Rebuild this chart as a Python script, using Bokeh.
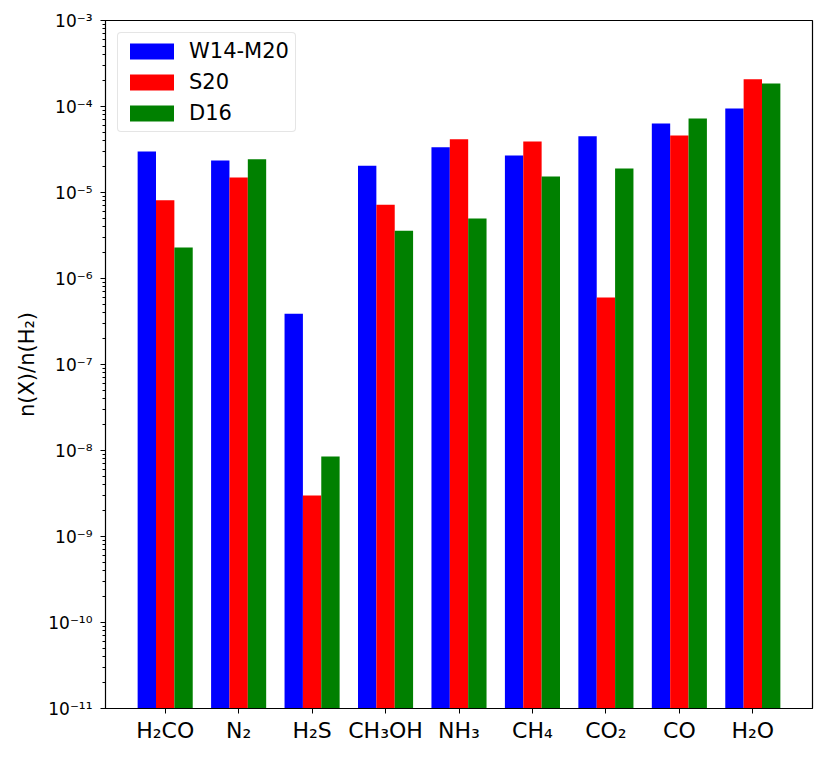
import numpy as np
from bokeh.plotting import figure
from bokeh.models import (ColumnDataSource, Range1d, FixedTicker, CustomJSTickFormatter,
                          Legend, LegendItem)
from bokeh.embed import file_html
from bokeh.resources import INLINE

# ---- data ----
molecules = ["H₂CO", "N₂", "H₂S", "CH₃OH", "NH₃", "CH₄", "CO₂", "CO", "H₂O"]
series_names = ["W14-M20", "S20", "D16"]
w14_m20 = [3.0e-5, 2.36e-5, 3.9e-7, 2.05e-5, 3.35e-5, 2.7e-5, 4.5e-5, 6.35e-5, 9.5e-5]
s20 = [8.1e-6, 1.49e-5, 3.0e-9, 7.2e-6, 4.15e-5, 3.92e-5, 6.0e-7, 4.6e-5, 2.08e-4]
d16 = [2.3e-6, 2.43e-5, 8.5e-9, 3.6e-6, 5.0e-6, 1.53e-5, 1.9e-5, 7.25e-5, 1.85e-4]
colors = ["#0000ff", "#ff0000", "#008000"]
y_label = "n(X)/n(H₂)"
y_decades = list(range(-11, -2))

FONT = "DejaVu Sans"

idx = np.arange(len(molecules))
bar_w = 0.25
offsets = [-bar_w, 0.0, bar_w]

p = figure(width=822, height=750, output_backend="svg", toolbar_location=None,
           y_axis_type="log",
           x_range=Range1d(-0.375 - 0.4375, len(molecules) - 1 + 0.375 + 0.4375),
           y_range=Range1d(10.0 ** y_decades[0], 10.0 ** y_decades[-1]),
           min_border_left=105, min_border_right=10, min_border_top=20,
           min_border_bottom=42)

p.xgrid.visible = False
p.ygrid.visible = False
p.outline_line_color = "black"
p.outline_line_width = 1.2
p.outline_line_alpha = 1.0
p.background_fill_color = "white"
p.border_fill_color = "white"

renderers = []
for vals, off, col in zip([w14_m20, s20, d16], offsets, colors):
    src = ColumnDataSource(dict(x=idx + off, top=vals, bottom=[1e-13] * len(vals)))
    r = p.vbar(x="x", top="top", bottom="bottom", width=bar_w, source=src,
               fill_color=col, line_color=None)
    renderers.append(r)

# x axis
p.xaxis.ticker = FixedTicker(ticks=list(idx), minor_ticks=[])
p.xaxis.major_label_overrides = {int(i): m for i, m in zip(idx, molecules)}
p.xaxis.major_label_text_font = FONT
p.xaxis.major_label_text_font_size = "22px"
p.xaxis.major_label_text_color = "black"
p.xaxis.major_tick_out = 5
p.xaxis.major_tick_in = 0
p.xaxis.major_label_standoff = 4
p.xaxis.axis_line_color = "black"
p.xaxis.major_tick_line_color = "black"

# y axis
major = [10.0 ** e for e in y_decades]
minor = [k * 10.0 ** e for e in y_decades[:-1] for k in range(2, 10)]
p.yaxis.ticker = FixedTicker(ticks=major, minor_ticks=minor)
p.yaxis.formatter = CustomJSTickFormatter(code="""
const sup = {'-':'\u207b','0':'\u2070','1':'\u00b9','2':'\u00b2','3':'\u00b3','4':'\u2074',
             '5':'\u2075','6':'\u2076','7':'\u2077','8':'\u2078','9':'\u2079'};
const e = Math.round(Math.log10(tick));
return '10' + String(e).split('').map(c => sup[c]).join('');
""")
p.yaxis.major_label_text_font = FONT
p.yaxis.major_label_text_font_size = "17px"
p.yaxis.major_label_text_color = "black"
p.yaxis.major_tick_out = 5
p.yaxis.major_tick_in = 0
p.yaxis.minor_tick_out = 3
p.yaxis.minor_tick_in = 0
p.yaxis.major_label_standoff = 8
p.yaxis.axis_label = y_label
p.yaxis.axis_label_text_font = FONT
p.yaxis.axis_label_text_font_size = "21px"
p.yaxis.axis_label_text_font_style = "normal"
p.yaxis.axis_label_text_color = "black"
p.yaxis.axis_label_standoff = 6
p.yaxis.axis_line_color = "black"

legend = Legend(items=[LegendItem(label=n, renderers=[r]) for n, r in zip(series_names, renderers)],
                location="top_left")
legend.margin = 12
legend.padding = 6
legend.spacing = 7
legend.glyph_width = 55
legend.glyph_height = 20
legend.label_standoff = 10
legend.label_text_font = FONT
legend.label_text_font_size = "21px"
legend.label_text_color = "black"
legend.border_line_color = "#cccccc"
legend.border_line_width = 1.2
legend.background_fill_alpha = 0.8
if "border_radius" in Legend.properties():
    legend.border_radius = 4
p.add_layout(legend)

open("out.html", "w").write(file_html(p, INLINE))
